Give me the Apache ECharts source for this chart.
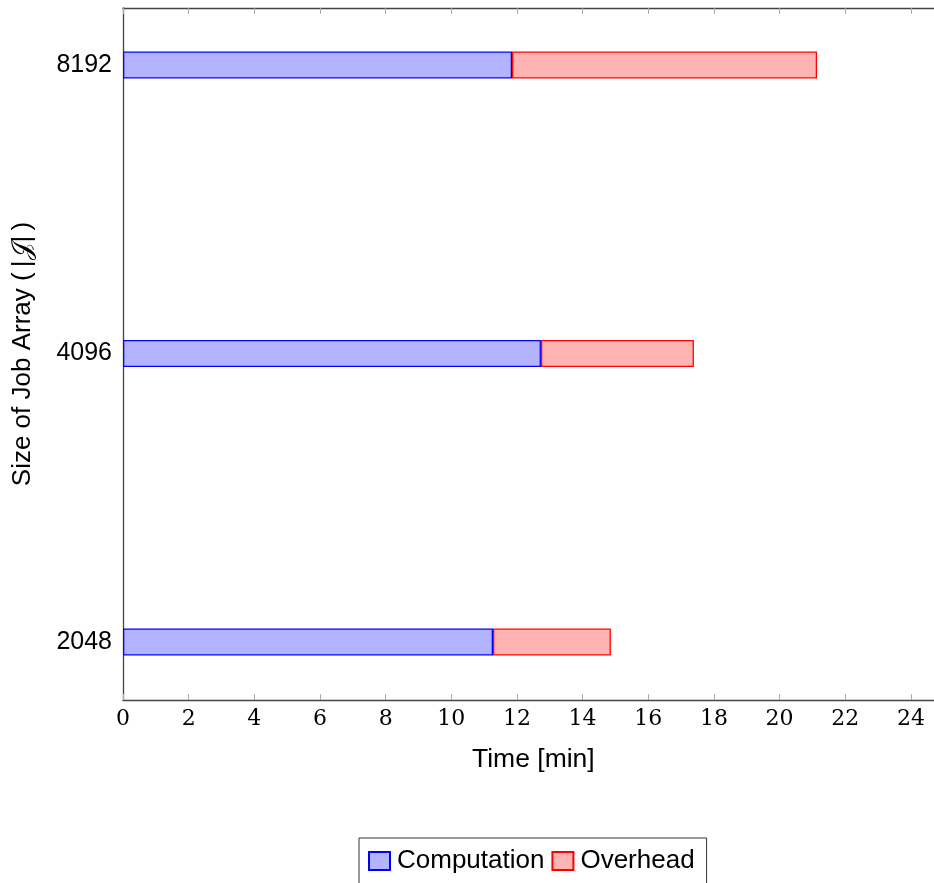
<!DOCTYPE html>
<html>
<head>
<meta charset="utf-8">
<script src="https://cdn.jsdelivr.net/npm/echarts@6/dist/echarts.min.js"></script>
<style>
  html, body { margin: 0; padding: 0; background: #fff; }
  #chart { width: 934px; height: 883px; }
</style>
</head>
<body>
<div id="chart"></div>
<script>
// job array sizes (y categories, bottom to top)
var jobSizes = ['2048', '4096', '8192'];
// minutes spent computing / in overhead
var computation = [11.27, 12.73, 11.85];
var overhead = [3.59, 4.66, 9.29];
var seriesNames = ['Computation', 'Overhead'];

var xMax = 25;           // axis runs past the right edge of the picture
var pxPerMin = 32.83;
var plotW = xMax * pxPerMin;

var chart = echarts.init(document.getElementById('chart'));

var option = {
    animation: false,
    grid: [
        // frame with the axes
        { left: 123, top: 8, width: plotW, height: 692, outerBoundsMode: 'none', containLabel: false },
        // bars, inset so the category centres sit inside the frame
        { left: 123, top: 65, width: plotW, height: 577, outerBoundsMode: 'none', containLabel: false }
    ],
    xAxis: [
        {
            gridIndex: 0, type: 'value', position: 'bottom',
            min: 0, max: xMax, interval: 2,
            axisLine: { show: true, lineStyle: { color: '#444', width: 1.3 } },
            axisTick: { show: true, inside: true, length: 6, lineStyle: { color: '#aaa' } },
            axisLabel: { margin: 8, fontFamily: 'DejaVu Serif', fontSize: 22, color: '#000', showMaxLabel: false },
            splitLine: { show: false },
            name: 'Time [min]', nameLocation: 'middle', nameGap: 46,
            nameTextStyle: { fontFamily: 'Liberation Sans', fontSize: 26.5, color: '#000' }
        },
        {
            gridIndex: 0, type: 'value', position: 'top',
            min: 0, max: xMax, interval: 2,
            axisLine: { show: true, lineStyle: { color: '#444', width: 1.3 } },
            axisTick: { show: true, inside: true, length: 6, lineStyle: { color: '#aaa' } },
            axisLabel: { show: false },
            splitLine: { show: false }
        },
        {
            gridIndex: 1, type: 'value', min: 0, max: xMax,
            show: false
        }
    ],
    yAxis: [
        {
            gridIndex: 0, type: 'value', min: 0, max: 1,
            axisLine: { show: true, lineStyle: { color: '#444', width: 1.3 } },
            axisTick: { show: false },
            axisLabel: { show: false },
            splitLine: { show: false },
            name: 'Size of Job Array (\u2009|\uD835\uDCA5|\u2009)', nameLocation: 'middle', nameGap: 87,
            nameTextStyle: { fontFamily: 'Liberation Sans', fontSize: 26, color: '#000' }
        },
        {
            gridIndex: 1, type: 'category', data: jobSizes, boundaryGap: false,
            axisLine: { show: false },
            axisTick: { show: false },
            axisLabel: { margin: 11, fontFamily: 'Liberation Sans', fontSize: 25, color: '#000' },
            splitLine: { show: false }
        }
    ],
    legend: {
        data: seriesNames,
        left: 359, top: 838,
        orient: 'horizontal',
        icon: 'rect',
        itemWidth: 21, itemHeight: 18, itemGap: 7,
        padding: [10, 12, 40, 9],
        borderColor: '#333', borderWidth: 1,
        textStyle: { fontFamily: 'Liberation Sans', fontSize: 26, color: '#000', padding: [0, 0, 0, 2] }
    },
    series: [
        {
            name: seriesNames[0], type: 'bar', stack: 'time',
            xAxisIndex: 2, yAxisIndex: 1,
            barWidth: 27,
            data: computation,
            itemStyle: { color: '#b3b3ff', borderColor: '#0000ff', borderWidth: 1.3 }
        },
        {
            name: seriesNames[1], type: 'bar', stack: 'time',
            xAxisIndex: 2, yAxisIndex: 1,
            barWidth: 27,
            data: overhead,
            itemStyle: { color: '#ffb3b3', borderColor: '#ff0000', borderWidth: 1.3 }
        }
    ]
};

chart.setOption(option);
</script>
</body>
</html>
